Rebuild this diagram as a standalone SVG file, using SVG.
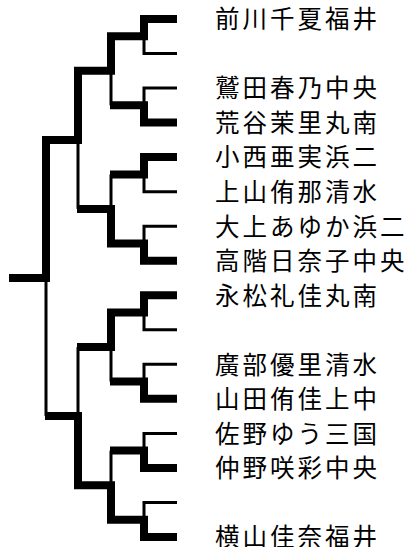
<svg xmlns="http://www.w3.org/2000/svg" width="409" height="547" viewBox="0 0 409 547">
<style>
.thin{fill:none;stroke:#000;stroke-width:3;stroke-linecap:butt;stroke-linejoin:miter}
.thick{fill:none;stroke:#000;stroke-width:8;stroke-linecap:butt;stroke-linejoin:miter}
.lbl{font-family:"Noto Sans CJK JP","Noto Sans CJK SC",sans-serif;font-size:24.5px;letter-spacing:3px;fill:#000}
</style>
<rect width="409" height="547" fill="#fff"/>
<g id="connectors">
<path class="thin" d="M177,53.5H144V36.3"/>
<path class="thin" d="M177,88.1H144V105.3"/>
<path class="thin" d="M111,70.8V105.3"/>
<path class="thin" d="M177,191.7H144V174.4"/>
<path class="thin" d="M177,226.2H144V243.5"/>
<path class="thin" d="M111,174.4V208.9"/>
<path class="thin" d="M78,139.9V208.9"/>
<path class="thin" d="M46,278V416.1"/>
<path class="thin" d="M177,329.8H144V312.5"/>
<path class="thin" d="M177,364.3H144V381.6"/>
<path class="thin" d="M111,347.1V381.6"/>
<path class="thin" d="M78,347.1V416.1"/>
<path class="thin" d="M177,433.4H144V450.6"/>
<path class="thin" d="M111,450.6V485.2"/>
<path class="thin" d="M177,502.4H144V519.7"/>
<path class="thick" d="M177,19H144V36.3H111V70.8H78V139.9H46V278H9"/>
<path class="thick" d="M177,122.6H144V105.3H110"/>
<path class="thick" d="M177,157.1H144V174.4H110"/>
<path class="thick" d="M177,260.7H144V243.5H111V208.9H77"/>
<path class="thick" d="M177,295.2H144V312.5H111V347.1H77"/>
<path class="thick" d="M177,398.8H144V381.6H110"/>
<path class="thick" d="M177,467.9H144V450.6H110"/>
<path class="thick" d="M177,537H144V519.7H111V485.2H78V416.1H45"/>
</g>
<g id="p01"><text class="lbl" x="215" y="28.3">前川千夏福井</text></g>
<g id="p03"><text class="lbl" x="215" y="97.4">鷲田春乃中央</text></g>
<g id="p04"><text class="lbl" x="215" y="131.9">荒谷茉里丸南</text></g>
<g id="p05"><text class="lbl" x="215" y="166.4">小西亜実浜二</text></g>
<g id="p06"><text class="lbl" x="215" y="201">上山侑那清水</text></g>
<g id="p07"><text class="lbl" x="215" y="235.5">大上あゆか浜二</text></g>
<g id="p08"><text class="lbl" x="215" y="270">高階日奈子中央</text></g>
<g id="p09"><text class="lbl" x="215" y="304.5">永松礼佳丸南</text></g>
<g id="p11"><text class="lbl" x="215" y="373.6">廣部優里清水</text></g>
<g id="p12"><text class="lbl" x="215" y="408.1">山田侑佳上中</text></g>
<g id="p13"><text class="lbl" x="215" y="442.7">佐野ゆう三国</text></g>
<g id="p14"><text class="lbl" x="215" y="477.2">仲野咲彩中央</text></g>
<g id="p16"><text class="lbl" x="215" y="545.8">横山佳奈福井</text></g>
</svg>
